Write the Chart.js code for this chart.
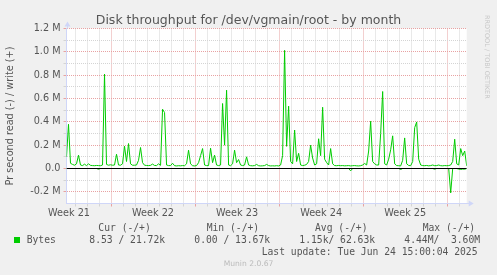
<!DOCTYPE html>
<html>
<head>
<meta charset="utf-8">
<script src="https://cdn.jsdelivr.net/npm/chart.js@4.4.1/dist/chart.umd.min.js"></script>
<style>
  body { margin: 0; background: #f0f0f0; }
  #wrap { position: relative; width: 497px; height: 275px; overflow: hidden; }
  canvas { position: absolute; left: 0; top: 0; }
  .t { position: absolute; white-space: pre; font: 9.7px "DejaVu Sans Mono", monospace; color: #555; line-height: 12px; }
  #title { position: absolute; left: 0; top: 12px; width: 497px; text-align: center; font: 12.5px "DejaVu Sans", sans-serif; color: #555; line-height: 15px; }
  #rrd { position: absolute; left: 483px; top: 15px; writing-mode: vertical-rl; font: 6.5px "DejaVu Sans", sans-serif; color: #c8c8c8; line-height: 8px; }
  #munin { position: absolute; left: 0; top: 259px; width: 497px; text-align: center; font: 7.6px "DejaVu Sans", sans-serif; color: #bbb; line-height: 9px; }
  #sq { position: absolute; left: 14px; top: 237px; width: 6px; height: 6px; background: #00cc00; }
</style>
</head>
<body>
<div id="wrap">
  <canvas id="canvas" width="497" height="275"></canvas>
  <div id="title">Disk throughput for /dev/vgmain/root - by month</div>
  <div id="rrd">RRDTOOL / TOBI OETIKER</div>
  <div class="t" style="left:98.3px;top:221.7px">Cur (-/+)</div>
  <div class="t" style="left:206.7px;top:221.7px">Min (-/+)</div>
  <div class="t" style="left:315px;top:221.7px">Avg (-/+)</div>
  <div class="t" style="left:422.7px;top:221.7px">Max (-/+)</div>
  <div id="sq"></div>
  <div class="t" style="left:26.7px;top:233.7px">Bytes</div>
  <div class="t" style="left:89.3px;top:233.7px">8.53 / 21.72k</div>
  <div class="t" style="left:194.3px;top:233.7px">0.00 / 13.67k</div>
  <div class="t" style="left:299.3px;top:233.7px">1.15k/ 62.63k</div>
  <div class="t" style="left:404.3px;top:233.7px">4.44M/  3.60M</div>
  <div class="t" style="left:261.7px;top:245.7px">Last update: Tue Jun 24 15:00:04 2025</div>
  <div id="munin">Munin 2.0.67</div>
</div>
<script>
// one sample every 4 hours, 800 hours on screen
const HOURS = 800
const STEP = 4

// write bytes/s (kB), drawn above zero
const writeK = [
  100, 379, 45, 35, 28, 40, 114, 30, 25, 37,
  25, 40, 27, 25, 24, 26, 25, 24, 30, 810,
  35, 28, 32, 28, 30, 122, 30, 28, 40, 191,
  60, 214, 40, 28, 28, 30, 70, 180, 50, 28,
  26, 25, 27, 38, 26, 25, 40, 27, 508, 480,
  30, 25, 25, 45, 24, 22, 24, 23, 25, 24,
  40, 157, 40, 24, 22, 25, 50, 110, 171, 30,
  25, 25, 174, 50, 114, 30, 25, 30, 557, 200,
  671, 30, 24, 40, 157, 50, 77, 30, 25, 30,
  100, 30, 24, 23, 25, 35, 24, 22, 23, 25,
  35, 25, 22, 23, 22, 24, 22, 30, 110, 1013,
  190, 534, 60, 40, 330, 60, 130, 30, 25, 28,
  35, 60, 200, 90, 30, 40, 255, 110, 525, 80,
  50, 30, 171, 40, 25, 24, 26, 24, 25, 23,
  24, 25, 22, 24, 25, 23, 22, 24, 30, 43,
  30, 150, 405, 60, 40, 30, 30, 300, 660, 40,
  30, 80, 160, 280, 40, 25, 24, 22, 70, 262,
  40, 26, 24, 60, 350, 399, 80, 30, 25, 24,
  26, 23, 25, 30, 24, 25, 30, 24, 23, 25,
  24, 25, 30, 60, 251, 40, 30, 171, 110, 150,
  22
]

// read bytes/s (kB), drawn below zero
const readK = [
  0, 0, 0, 0, 0, 0, 0, 0, 0, 0,
  0, 0, 0, 0, 0, 0, 6, 0, 0, 0,
  0, 0, 0, 0, 0, 0, 0, 0, 0, 0,
  0, 0, 0, 0, 0, 0, 0, 0, 0, 0,
  0, 0, 0, 0, 0, 0, 0, 0, 0, 0,
  0, 0, 0, 0, 0, 0, 0, 0, 0, 0,
  0, 0, 0, 0, 0, 0, 0, 0, 0, 0,
  0, 0, 0, 0, 0, 0, 0, 0, 0, 0,
  0, 0, 0, 0, 0, 0, 0, 0, 0, 0,
  0, 0, 0, 0, 0, 0, 0, 0, 0, 0,
  0, 0, 0, 0, 0, 0, 0, 0, 0, 0,
  0, 0, 0, 0, 0, 0, 0, 0, 0, 0,
  0, 0, 0, 0, 0, 0, 0, 0, 0, 0,
  0, 0, 0, 0, 0, 0, 0, 0, 0, 0,
  0, 0, 20, 0, 0, 0, 0, 0, 0, 0,
  0, 0, 0, 0, 0, 0, 0, 0, 0, 0,
  0, 0, 0, 0, 0, 0, 0, 8, 0, 0,
  0, 0, 0, 0, 0, 0, 0, 0, 0, 0,
  0, 0, 0, 0, 6, 0, 0, 0, 0, 0,
  0, 0, 209, 0, 0, 0, 5, 8, 5, 6,
  0
]

const weekLabels = ['Week 21', 'Week 22', 'Week 23', 'Week 24', 'Week 25']
const weekLabelHours = [5, 173, 341, 509, 677]
const firstDayHour = 17
const firstWeekHour = 89
const yTickValues = [-300000, -200000, -100000, 0, 100000, 200000, 300000, 400000,
  500000, 600000, 700000, 800000, 900000, 1000000, 1100000, 1200000]

const AXIS = '#CFD6F8'
const MGRID = '#e8a2a2'
const GRID = '#d4d4d4'
const FONT = {family: 'DejaVu Sans', size: 9.7}

const plotBg = {
  id: 'plotBg',
  beforeDraw(chart) {
    const {ctx, chartArea: a} = chart
    ctx.save()
    ctx.fillStyle = '#ffffff'
    ctx.fillRect(a.left, a.top, a.right - a.left, a.bottom - a.top)
    ctx.restore()
  },
}

// rrdtool style arrows on the axes
const arrows = {
  id: 'arrows',
  afterDraw(chart) {
    const {ctx, chartArea: a} = chart
    const x0 = Math.round(a.left) + 0.5
    const y0 = Math.round(a.bottom) - 0.5
    ctx.save()
    ctx.strokeStyle = AXIS
    ctx.fillStyle = AXIS
    ctx.lineWidth = 1
    ctx.beginPath()
    ctx.moveTo(x0, a.top)
    ctx.lineTo(x0, a.top - 3)
    ctx.moveTo(a.right, y0)
    ctx.lineTo(a.right + 3, y0)
    ctx.stroke()
    ctx.beginPath()
    ctx.moveTo(x0 - 3, a.top - 2)
    ctx.lineTo(x0 + 3, a.top - 2)
    ctx.lineTo(x0, a.top - 7)
    ctx.closePath()
    ctx.fill()
    ctx.beginPath()
    ctx.moveTo(a.right + 2, y0 - 3)
    ctx.lineTo(a.right + 2, y0 + 3)
    ctx.lineTo(a.right + 7, y0)
    ctx.closePath()
    ctx.fill()
    ctx.restore()
  },
}

const data = {
  datasets: [
    {
      label: 'zero',
      data: [{x: 0, y: 0}, {x: HOURS, y: 0}],
      borderColor: '#000000',
      borderWidth: 1,
      pointRadius: 0,
      order: 0,
    },
    {
      label: 'write',
      data: writeK.map((v, i) => ({x: i * STEP, y: v * 1000})),
      borderColor: '#00cc00',
      borderWidth: 1,
      pointRadius: 0,
      order: 1,
    },
    {
      label: 'read',
      data: readK.map((v, i) => ({x: i * STEP, y: -v * 1000})),
      borderColor: '#00cc00',
      borderWidth: 1,
      pointRadius: 0,
      order: 1,
    },
  ],
}

const config = {
  type: 'line',
  data: data,
  plugins: [plotBg, arrows],
  options: {
    responsive: false,
    animation: false,
    layout: {padding: {top: 28.5, left: 0, right: 30.3, bottom: 0}},
    plugins: {legend: {display: false}, tooltip: {enabled: false}},
    scales: {
      x: {
        type: 'linear',
        min: 0,
        max: HOURS,
        afterBuildTicks: (s) => {
          const t = []
          for (let h = firstDayHour; h < HOURS; h += 24) t.push({value: h})
          weekLabelHours.forEach((h) => t.push({value: h}))
          t.sort((a, b) => a.value - b.value)
          s.ticks = t
        },
        afterFit: (s) => { s.height = 71.5 },
        grid: {
          color: (c) => {
            if (!c.tick) return GRID
            const h = c.tick.value
            if (weekLabelHours.includes(h)) return 'rgba(0,0,0,0)'
            return (h - firstWeekHour) % 168 === 0 ? MGRID : GRID
          },
          tickLength: 3,
        },
        border: {color: AXIS, dash: [1, 1]},
        ticks: {
          autoSkip: false,
          maxRotation: 0,
          padding: 1,
          color: '#555',
          font: FONT,
          callback: (v) => {
            const k = weekLabelHours.indexOf(v)
            return k < 0 ? '' : weekLabels[k]
          },
        },
      },
      y: {
        min: -300000,
        max: 1200000,
        afterBuildTicks: (s) => { s.ticks = yTickValues.map((v) => ({value: v})) },
        afterFit: (s) => { s.width = 66.5 },
        grid: {
          color: (c) => {
            if (!c.tick) return GRID
            const v = c.tick.value
            if (v === -300000) return 'rgba(0,0,0,0)'
            return v % 200000 === 0 ? MGRID : GRID
          },
          tickLength: 3,
        },
        border: {color: AXIS, dash: [1, 1]},
        ticks: {
          autoSkip: false,
          padding: 3,
          color: '#555',
          font: FONT,
          callback: (v) => {
            if (v % 200000 !== 0) return ''
            return v === 0 ? '0.0' : (v / 1e6).toFixed(1) + ' M'
          },
        },
        title: {
          display: true,
          text: 'Pr second read (-) / write (+)',
          color: '#555',
          font: FONT,
          padding: {top: 4.7, bottom: 0},
        },
      },
    },
  },
}

const canvas = document.getElementById('canvas')
const chart = new Chart(canvas, config)
</script>
</body>
</html>
